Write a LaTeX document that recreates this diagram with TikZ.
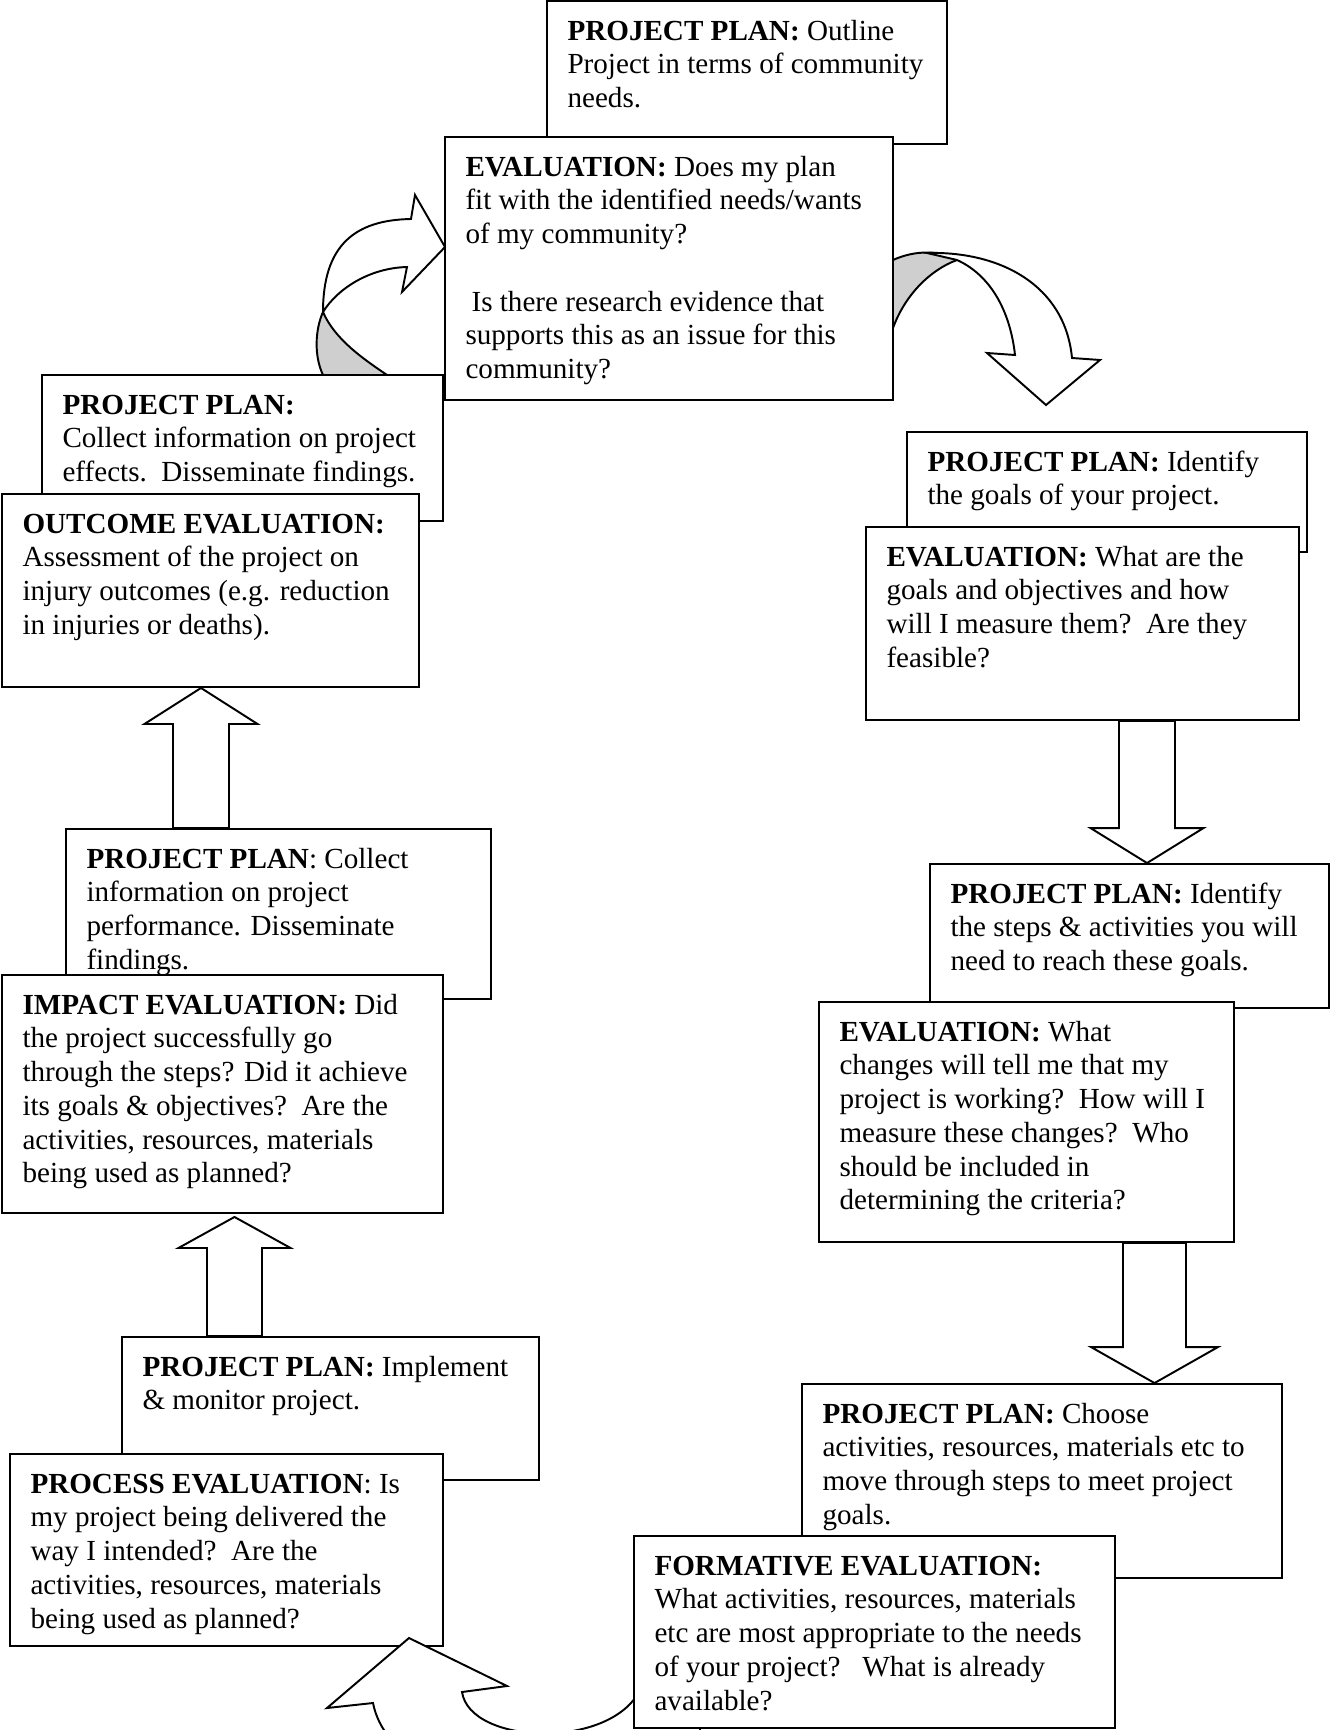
\documentclass[tikz,border=0pt]{standalone}
\usepackage{fontspec}
\setmainfont{Liberation Serif}
\usetikzlibrary{calc,fit}

\tikzset{
  box/.style={draw, line width=0.8pt, fill=white, inner sep=0pt, line join=miter},
  boxtext/.style={anchor=north west, inner sep=0pt, align=left, font=\fontsize{12}{13.9}\selectfont},
  blockarrow/.style={draw, line width=0.8pt, fill=white, line join=miter},
  band/.style={draw, line width=0.8pt, fill=white, line join=miter},
  backside/.style={draw, line width=0.8pt, fill=black!19},
}

% box from two corners, text set in its top left corner
\newcommand{\stagebox}[4]{%
  \node[box, fit={#2 #3}] (#1) {};
  \node[boxtext] (#1-text) at ($(#1.north west)+(21,16)$) {\strut #4};
}

% straight block arrow: foot, tip, half shaft, half head, head length
\newcommand{\blockarrow}[5]{%
  \draw[blockarrow] ($(#1)+(-#3,0)$) -- ($(#2)+(-#3,#5)$) -- ($(#2)+(-#4,#5)$) -- (#2)
    -- ($(#2)+(#4,#5)$) -- ($(#2)+(#3,#5)$) -- ($(#1)+(#3,0)$) -- cycle;
}

\begin{document}
\begin{tikzpicture}[x=0.412pt, y=-0.412pt]
    % Page frame
    \useasboundingbox (0,0) rectangle (1330,1730);
    \clip (0,0) rectangle (1330,1730);

    % Define coordinates (arrow columns)
    \coordinate (upA) at (201,0);
    \coordinate (upB) at (234.5,0);
    \coordinate (downA) at (1147,0);
    \coordinate (downB) at (1154.5,0);

    % Curved arrow leaving the first evaluation
    \filldraw[backside] (893,260) .. controls (915,250) and (940,250) .. (957,260)
      .. controls (930,270) and (905,295) .. (893,328) -- cycle;
    \filldraw[band] (927,253) .. controls (1000,251) and (1065,285) .. (1072,358)
      -- (1100,360) -- (1046,405) -- (987,353) -- (1015,355)
      .. controls (1010,310) and (990,275) .. (957,260) -- cycle;

    % Top pair
    \stagebox{planNeeds}{(547,1)}{(947,144)}{\textbf{PROJECT PLAN:} Outline\\Project in terms of community\\needs.}
    \stagebox{evalNeeds}{(445,137)}{(893,400)}{\textbf{EVALUATION:} Does my plan\\fit with the identified needs/wants\\of my community?\\[13.9pt]\hspace*{2.5pt}Is there research evidence that\\supports this as an issue for this\\community?}

    % Curved arrow coming back into the top
    \filldraw[backside] (323,312) .. controls (315,330) and (314,356) .. (323,375)
      -- (387,375) .. controls (365,360) and (335,340) .. (323,312) -- cycle;
    \filldraw[band] (323,312) .. controls (323,245) and (355,220) .. (411,219)
      -- (415,195) -- (445,247) -- (402,292) -- (407,267)
      .. controls (370,268) and (338,288) .. (323,312) -- cycle;

    % Right column
    \stagebox{planGoals}{(907,432)}{(1307,552)}{\textbf{PROJECT PLAN:} Identify\\the goals of your project.}
    \stagebox{evalGoals}{(866,527)}{(1299,720)}{\textbf{EVALUATION:} What are the\\goals and objectives and how\\will I measure them?\ \ Are they\\feasible?}
    \stagebox{planSteps}{(930,864)}{(1329,1008)}{\textbf{PROJECT PLAN:} Identify\\the steps \& activities you will\\need to reach these goals.}
    \stagebox{evalSteps}{(819,1002)}{(1234,1242)}{\textbf{EVALUATION:} What\\changes will tell me that my\\project is working?\ \ How will I\\measure these changes?\ \ Who\\should be included in\\determining the criteria?}
    \stagebox{planChoose}{(802,1384)}{(1282,1578)}{\textbf{PROJECT PLAN:} Choose\\activities, resources, materials etc to\\move through steps to meet project\\goals.}
    \blockarrow{evalGoals.south -| downA}{planSteps.north -| downA}{28}{56.5}{-35}
    \blockarrow{evalSteps.south -| downB}{planChoose.north -| downB}{31.5}{63.5}{-36}

    % Left column
    \stagebox{planEffects}{(42,375)}{(443,521)}{\textbf{PROJECT PLAN:}\\Collect information on project\\effects.\ \ Disseminate findings.}
    \stagebox{evalOutcome}{(2,494)}{(419,687)}{\textbf{OUTCOME EVALUATION:}\\Assessment of the project on\\injury outcomes (e.g. reduction\\in injuries or deaths).}
    \stagebox{planPerform}{(66,829)}{(491,999)}{\textbf{PROJECT PLAN}: Collect\\information on project\\performance. Disseminate\\findings.}
    \stagebox{evalImpact}{(2,975)}{(443,1213)}{\textbf{IMPACT EVALUATION:} Did\\the project successfully go\\through the steps? Did it achieve\\its goals \& objectives?\ \ Are the\\activities, resources, materials\\being used as planned?}
    \stagebox{planImplement}{(122,1337)}{(539,1480)}{\textbf{PROJECT PLAN:} Implement\\\& monitor project.}
    \stagebox{evalProcess}{(10,1454)}{(443,1646)}{\textbf{PROCESS EVALUATION}: Is\\my project being delivered the\\way I intended?\ \ Are the\\activities, resources, materials\\being used as planned?}
    \blockarrow{planPerform.north -| upA}{evalOutcome.south -| upA}{28}{56.5}{36}
    \blockarrow{planImplement.north -| upB}{$(evalImpact.south -| upB)+(0,3)$}{27.5}{56}{31}

    % U-turn arrow at the bottom
    \filldraw[band] (462,1692) .. controls (470,1745) and (610,1750) .. (640,1690)
      -- (700,1700) -- (700,1790) .. controls (560,1830) and (390,1790) .. (373,1703)
      -- (327,1708) -- (409,1638) -- (507,1686) -- cycle;

    % Last box
    \stagebox{evalFormative}{(634,1536)}{(1115,1728)}{\textbf{FORMATIVE EVALUATION:}\\What activities, resources, materials\\etc are most appropriate to the needs\\of your project?\ \ \ What is already\\available?}
\end{tikzpicture}
\end{document}
